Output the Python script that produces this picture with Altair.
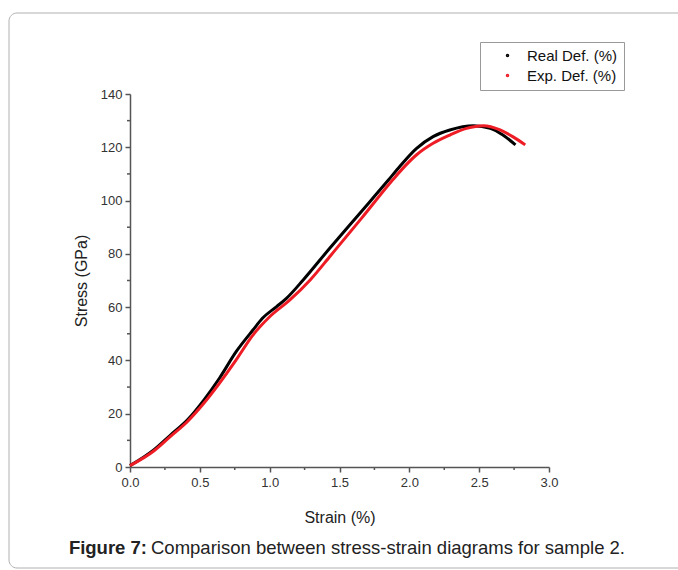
import altair as alt
import pandas as pd

# Real deformation series (black)
real_strain = [0.0, 0.17, 0.29, 0.41, 0.53, 0.64, 0.76, 0.88, 0.95, 1.05, 1.12, 1.24,
               1.43, 1.64, 1.85, 1.93, 2.05, 2.17, 2.29, 2.46, 2.58, 2.67, 2.76]
real_stress = [0.5, 6.4, 12.0, 17.6, 25.2, 33.3, 43.3, 51.4, 55.9, 60.2, 63.3, 70.2,
               82.1, 94.9, 107.7, 112.7, 119.5, 124.0, 126.5, 128.1, 127.1, 124.6, 120.9]

# Experimental deformation series (red)
exp_strain = [0.0, 0.17, 0.29, 0.41, 0.53, 0.64, 0.76, 0.88, 1.0, 1.145, 1.29,
              1.44, 1.66, 1.88, 1.95, 2.05, 2.17, 2.29, 2.41, 2.53, 2.65, 2.74, 2.83]
exp_stress = [0.5, 6.0, 11.5, 17.0, 24.0, 31.4, 40.2, 49.5, 56.4, 62.7, 70.2,
              79.6, 93.5, 107.7, 111.9, 117.1, 121.5, 124.6, 127.1, 128.1, 126.5, 124.0, 120.9]

series_names = ["Real Def. (%)", "Exp. Def. (%)"]
series_colors = ["#000000", "#ee1c24"]

x_major = [0.0, 0.5, 1.0, 1.5, 2.0, 2.5, 3.0]
x_minor = [0.25, 0.75, 1.25, 1.75, 2.25, 2.75]
y_major = [0, 20, 40, 60, 80, 100, 120, 140]
y_minor = [10, 30, 50, 70, 90, 110, 130]

caption_bold = "Figure 7:"
caption_rest = "Comparison between stress-strain diagrams for sample 2."

df = pd.concat([
    pd.DataFrame({"strain": real_strain, "stress": real_stress, "series": series_names[0], "idx": range(len(real_strain))}),
    pd.DataFrame({"strain": exp_strain, "stress": exp_stress, "series": series_names[1], "idx": range(len(exp_strain))}),
])

FONT = "Liberation Sans"
W, H = 419, 373
AX = "#555"

xscale = alt.Scale(domain=[0, 3], nice=False, zero=False)
yscale = alt.Scale(domain=[0, 140], nice=False)

frame = alt.Chart(pd.DataFrame({"a": [0]})).mark_rect(
    fill=None, stroke="#b0b0b0", strokeWidth=1, cornerRadius=8, clip=False
).encode(
    x=alt.value(-121), x2=alt.value(600), y=alt.value(-81), y2=alt.value(474)
)

lines = alt.Chart(df).mark_line(strokeWidth=3, clip=False, interpolate="monotone").encode(
    x=alt.X("strain:Q", scale=xscale,
            axis=alt.Axis(title="Strain (%)", values=x_major, format=".1f", grid=False,
                          tickSize=5, labelPadding=4, titlePadding=20, labelFlush=False)),
    y=alt.Y("stress:Q", scale=yscale,
            axis=alt.Axis(title="Stress (GPa)", values=y_major, format="d", grid=False,
                          tickSize=5, labelPadding=3, titlePadding=11, labelFlush=False)),
    color=alt.Color("series:N",
                    scale=alt.Scale(domain=series_names, range=series_colors),
                    legend=alt.Legend(title=None, orient="none", legendX=350, legendY=-52,
                                      symbolType="circle", symbolSize=4, symbolStrokeWidth=1.5,
                                      labelFont=FONT, labelFontSize=15, labelColor="#111",
                                      strokeColor="#999", padding=6, rowPadding=4,
                                      symbolOffset=14, labelOffset=12, fillColor="white")),
    order="idx:Q",
)

xminor = alt.Chart(pd.DataFrame({"v": x_minor})).mark_rule(color=AX, strokeWidth=1.5, clip=False).encode(
    x=alt.X("v:Q", scale=xscale), y=alt.value(H), y2=alt.value(H + 3))
yminor = alt.Chart(pd.DataFrame({"v": y_minor})).mark_rule(color=AX, strokeWidth=1.5, clip=False).encode(
    y=alt.Y("v:Q", scale=yscale), x=alt.value(0), x2=alt.value(-3))

cap_df = pd.DataFrame({"t": [caption_bold], "r": [caption_rest]})
cap1 = alt.Chart(cap_df).mark_text(align="right", baseline="middle", font=FONT, fontSize=18.5,
                                   fontWeight="bold", color="#222").encode(
    text="t:N", x=alt.value(17), y=alt.value(454))
cap2 = alt.Chart(cap_df).mark_text(align="left", baseline="middle", font=FONT, fontSize=18.5,
                                   color="#222").encode(
    text="r:N", x=alt.value(21), y=alt.value(454))

chart = alt.layer(frame, lines, xminor, yminor, cap1, cap2).properties(
    width=W, height=H,
    autosize=alt.AutoSizeParams(type="none"),
    padding={"left": 130, "top": 94, "right": 129, "bottom": 103},
    background="white",
).configure_view(stroke=None).configure_axis(
    domainColor=AX, tickColor=AX, labelColor="#333", titleColor="#222",
    labelFont=FONT, titleFont=FONT, labelFontSize=13, titleFontSize=16, titleFontWeight="normal",
    domainWidth=1.5, tickWidth=1.5,
)

chart.save("out.html", embed_options={"renderer": "svg", "actions": False})
